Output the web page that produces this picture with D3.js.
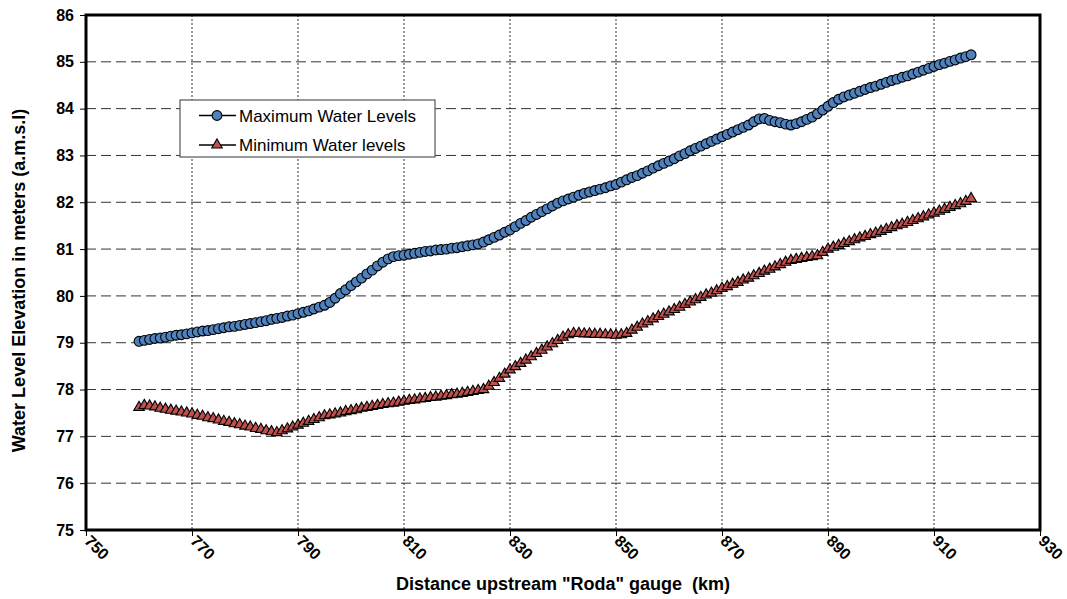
<!DOCTYPE html>
<html><head><meta charset="utf-8">
<script src="https://cdn.jsdelivr.net/npm/d3@7"></script>
<style>
html,body{margin:0;padding:0;background:#fff;}
svg{display:block;font-family:"Liberation Sans",Arial,sans-serif;}
text{white-space:pre;}
</style></head>
<body><svg id="c" width="1067" height="599"></svg>
<script>
const km = [
760,761,762,763,764,765,766,767,768,769,770,771,772,773,774,775,776,777,778,779,
780,781,782,783,784,785,786,787,788,789,790,791,792,793,794,795,796,797,798,799,
800,801,802,803,804,805,806,807,808,809,810,811,812,813,814,815,816,817,818,819,
820,821,822,823,824,825,826,827,828,829,830,831,832,833,834,835,836,837,838,839,
840,841,842,843,844,845,846,847,848,849,850,851,852,853,854,855,856,857,858,859,
860,861,862,863,864,865,866,867,868,869,870,871,872,873,874,875,876,877,878,879,
880,881,882,883,884,885,886,887,888,889,890,891,892,893,894,895,896,897,898,899,
900,901,902,903,904,905,906,907,908,909,910,911,912,913,914,915,916,917];

const maxLevels = [
79.03,79.05,79.07,79.09,79.10,79.12,79.14,79.16,79.17,79.19,
79.21,79.23,79.25,79.26,79.28,79.30,79.32,79.34,79.35,79.37,
79.39,79.41,79.43,79.45,79.47,79.50,79.52,79.54,79.57,79.59,
79.62,79.65,79.68,79.72,79.76,79.80,79.86,79.95,80.05,80.13,
80.22,80.30,80.38,80.47,80.55,80.64,80.72,80.79,80.84,80.86,
80.87,80.89,80.91,80.93,80.95,80.96,80.98,80.99,81.00,81.02,
81.03,81.05,81.07,81.09,81.11,81.15,81.20,81.25,81.30,81.36,
81.41,81.48,81.55,81.61,81.68,81.74,81.80,81.86,81.92,81.98,
82.03,82.07,82.11,82.15,82.19,82.22,82.25,82.28,82.31,82.35,
82.38,82.43,82.48,82.53,82.57,82.62,82.67,82.73,82.78,82.83,
82.88,82.93,82.99,83.04,83.10,83.15,83.20,83.25,83.30,83.35,
83.40,83.45,83.50,83.55,83.60,83.65,83.72,83.78,83.79,83.75,
83.72,83.70,83.67,83.65,83.68,83.72,83.77,83.82,83.89,83.97,
84.05,84.13,84.20,84.25,84.29,84.33,84.37,84.41,84.45,84.48,
84.52,84.56,84.60,84.63,84.67,84.70,84.74,84.78,84.82,84.86,
84.90,84.94,84.97,85.01,85.04,85.08,85.11,85.15];

const minLevels = [
77.62,77.66,77.65,77.63,77.60,77.58,77.56,77.54,77.52,77.50,
77.48,77.45,77.43,77.40,77.38,77.35,77.32,77.30,77.27,77.25,
77.22,77.20,77.17,77.15,77.12,77.10,77.08,77.12,77.16,77.20,
77.24,77.28,77.32,77.36,77.40,77.44,77.46,77.48,77.50,77.53,
77.55,77.57,77.60,77.62,77.64,77.66,77.68,77.70,77.71,77.73,
77.75,77.77,77.78,77.80,77.81,77.83,77.84,77.86,77.87,77.89,
77.90,77.92,77.94,77.96,77.98,78.00,78.07,78.15,78.24,78.33,
78.42,78.49,78.56,78.63,78.70,78.77,78.84,78.91,78.98,79.05,
79.12,79.17,79.20,79.20,79.19,79.19,79.18,79.18,79.17,79.17,
79.16,79.17,79.20,79.27,79.33,79.40,79.45,79.51,79.56,79.61,
79.66,79.71,79.76,79.82,79.87,79.92,79.97,80.02,80.06,80.11,
80.16,80.20,80.25,80.29,80.34,80.38,80.43,80.48,80.53,80.57,
80.62,80.67,80.72,80.76,80.78,80.80,80.82,80.84,80.86,80.93,
81.00,81.04,81.08,81.12,81.16,81.20,81.24,81.27,81.31,81.34,
81.38,81.42,81.46,81.50,81.53,81.57,81.61,81.65,81.69,81.73,
81.77,81.81,81.85,81.89,81.93,81.97,82.02,82.08];

const xTicks = [750,770,790,810,830,850,870,890,910,930];
const yTicks = [75,76,77,78,79,80,81,82,83,84,85,86];
const seriesNames = ["Maximum Water Levels","Minimum Water levels"];
const xTitle = 'Distance upstream "Roda" gauge  (km)';
const yTitle = "Water Level Elevation in meters (a.m.s.l)";

const svg = d3.select("#c");
const L = 86, R = 1040, T = 15, B = 530;
const x = d3.scaleLinear().domain([750,930]).range([L,R]);
const y = d3.scaleLinear().domain([75,86]).range([B,T]);

// gridlines
const g = svg.append("g");
g.selectAll("line.h").data(yTicks.filter(v=>v>75 && v<86)).enter().append("line")
  .attr("x1",L).attr("x2",R).attr("y1",d=>y(d)).attr("y2",d=>y(d))
  .attr("stroke","#333").attr("stroke-width",1).attr("stroke-dasharray","10,5");
g.selectAll("line.v").data(xTicks.filter(v=>v>750 && v<930)).enter().append("line")
  .attr("y1",T).attr("y2",B).attr("x1",d=>x(d)).attr("x2",d=>x(d))
  .attr("stroke","#333").attr("stroke-width",1).attr("stroke-dasharray","2,2");

// axes
const xAxis = d3.axisBottom(x).tickValues(xTicks).tickSize(6).tickFormat(d3.format("d"));
const xa = svg.append("g").attr("transform",`translate(0,${B})`).call(xAxis);
xa.select(".domain").remove();
xa.selectAll(".tick line").attr("stroke","#000");
xa.selectAll(".tick text")
  .attr("font-size",16).attr("font-weight","bold").attr("fill","#000")
  .attr("text-anchor","start").attr("dy",0).attr("y",0)
  .attr("transform","translate(-3,12) rotate(45)");

const yAxis = d3.axisLeft(y).tickValues(yTicks).tickSize(6).tickFormat(d3.format("d"));
const ya = svg.append("g").attr("transform",`translate(${L},0)`).call(yAxis);
ya.select(".domain").remove();
ya.selectAll(".tick line").attr("stroke","#000");
ya.selectAll(".tick text").attr("font-size",16).attr("font-weight","bold").attr("fill","#000").attr("x",-12);

// frame
svg.append("rect").attr("x",L).attr("y",T).attr("width",R-L).attr("height",B-T)
  .attr("fill","none").attr("stroke","#000").attr("stroke-width",3);

// titles
svg.append("text").attr("x",563).attr("y",590).attr("text-anchor","middle")
  .attr("font-size",18).attr("font-weight","bold").text(xTitle);
svg.append("text").attr("transform",`translate(25,${(T+B)/2+8}) rotate(-90)`)
  .attr("text-anchor","middle").attr("font-size",18).attr("font-weight","bold").text(yTitle);

// series
const line = d3.line().x((d,i)=>x(km[i])).y(d=>y(d));
const triangle = d3.symbol().type(d3.symbolTriangle).size(48);
function drawSeries(vals, kind){
  const s = svg.append("g");
  s.append("path").attr("d",line(vals)).attr("fill","none").attr("stroke","#000").attr("stroke-width",1.5);
  if(kind==="circle"){
    s.selectAll("circle").data(vals).enter().append("circle")
      .attr("cx",(d,i)=>x(km[i])).attr("cy",d=>y(d)).attr("r",4.9)
      .attr("fill","#4F81BD").attr("stroke","#000").attr("stroke-width",1.1);
  } else {
    s.selectAll("path.t").data(vals).enter().append("path")
      .attr("d",triangle).attr("transform",(d,i)=>`translate(${x(km[i])},${y(d)})`)
      .attr("fill","#C0504D").attr("stroke","#000").attr("stroke-width",1.1);
  }
}
drawSeries(maxLevels,"circle");
drawSeries(minLevels,"triangle");

// legend
const lg = svg.append("g");
lg.append("rect").attr("x",180).attr("y",100).attr("width",255).attr("height",57)
  .attr("fill","#fff").attr("stroke","#555").attr("stroke-width",1.2);
const ly = [115.5,145];
seriesNames.forEach((n,i)=>{
  lg.append("line").attr("x1",199).attr("x2",236).attr("y1",ly[i]).attr("y2",ly[i]).attr("stroke","#000").attr("stroke-width",1.5);
  if(i===0){
    lg.append("circle").attr("cx",217).attr("cy",ly[i]).attr("r",4.9).attr("fill","#4F81BD").attr("stroke","#000").attr("stroke-width",1.1);
  } else {
    lg.append("path").attr("d",triangle).attr("transform",`translate(217,${ly[i]})`).attr("fill","#C0504D").attr("stroke","#000").attr("stroke-width",1.1);
  }
  lg.append("text").attr("x",239).attr("y",ly[i]+6).attr("font-size",17).attr("fill","#000").text(n);
});
</script></body></html>
